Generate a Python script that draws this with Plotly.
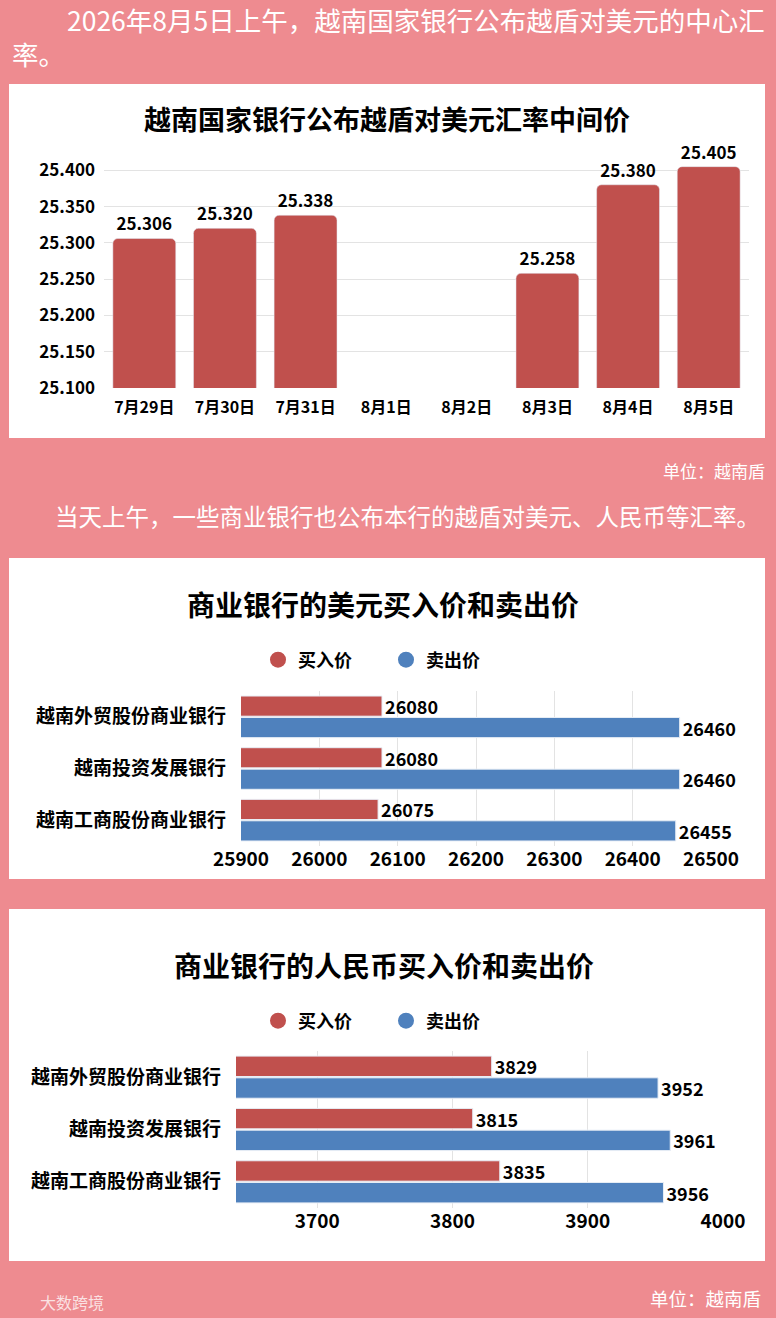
import plotly.graph_objects as go

W, H = 776, 1318
PINK = "#EE8B90"
RED = "#C0504D"
BLUE = "#4F81BD"
FONT = "Noto Sans CJK SC"

# 图1：越南国家银行中间价
dates = ["7月29日", "7月30日", "7月31日", "8月1日", "8月2日", "8月3日", "8月4日", "8月5日"]
mid_rate = [25.306, 25.320, 25.338, None, None, 25.258, 25.380, 25.405]

# 图2 / 图3：商业银行
banks = ["越南外贸股份商业银行", "越南投资发展银行", "越南工商股份商业银行"]
usd_buy = [26080, 26080, 26075]
usd_sell = [26460, 26460, 26455]
cny_buy = [3829, 3815, 3835]
cny_sell = [3952, 3961, 3956]

usd_ticks = [25900, 26000, 26100, 26200, 26300, 26400, 26500]
cny_ticks = [3700, 3800, 3900, 4000]


def fx(px):
    return px / W


def fy(py):
    return 1 - py / H


def f(size, color="black", bold=True):
    return dict(family=FONT, size=size, color=color, weight="bold" if bold else "normal")


fig = go.Figure()

fig.add_trace(go.Bar(
    x=dates, y=mid_rate, marker=dict(color=RED, cornerradius=5), texttemplate="%{y:.3f}",
    textposition="outside", textfont=f(17), cliponaxis=False, constraintext="none",
    xaxis="x", yaxis="y", showlegend=False, hoverinfo="skip",
))

for vals, col, xa, ya in [(usd_buy, RED, "x2", "y2"), (usd_sell, BLUE, "x2", "y2"),
                          (cny_buy, RED, "x3", "y3"), (cny_sell, BLUE, "x3", "y3")]:
    fig.add_trace(go.Bar(
        y=banks, x=vals, orientation="h",
        marker=dict(color=col, cornerradius=0, line=dict(color="#E8EEF6", width=1)),
        texttemplate="%{x:.0f}", textposition="outside", textfont=f(18),
        cliponaxis=False, constraintext="none",
        xaxis=xa, yaxis=ya, showlegend=False, hoverinfo="skip",
    ))

# 图例（圆点）
for name, col, lg, xa, ya in [("买入价", RED, "legend", "x2", "y2"), ("卖出价", BLUE, "legend", "x2", "y2"),
                              ("买入价", RED, "legend2", "x3", "y3"), ("卖出价", BLUE, "legend2", "x3", "y3")]:
    fig.add_trace(go.Scatter(
        x=[None], y=[None], mode="markers", name=name,
        marker=dict(symbol="circle", size=20, color=col),
        legend=lg, xaxis=xa, yaxis=ya, hoverinfo="skip",
    ))

grid = "#E3E3E3"
legend_style = dict(orientation="h", xanchor="left", yanchor="middle", font=f(18),
                    entrywidth=83, entrywidthmode="pixels", bgcolor="rgba(0,0,0,0)")
fig.update_layout(
    width=W, height=H,
    margin=dict(l=0, r=0, t=0, b=0, autoexpand=False),
    paper_bgcolor=PINK, plot_bgcolor="white",
    font=dict(family=FONT),
    barmode="group",
    bargap=0.17,
    bargroupgap=0.06,
    xaxis=dict(domain=[fx(104), fx(749)], type="category", showgrid=False, automargin=False,
               tickfont=f(16), ticklabelstandoff=8, fixedrange=True),
    yaxis=dict(domain=[fy(388), fy(163)], range=[25.1, 25.41], tick0=25.1, dtick=0.05,
               tickformat=".3f", gridcolor=grid, tickfont=f(17), ticklabelstandoff=8,
               zeroline=False, automargin=False),
    xaxis2=dict(domain=[fx(241), fx(711)], range=[25900, 26500], tickvals=usd_ticks,
                tickformat="d", gridcolor=grid, tickfont=f(19), zeroline=False,
                anchor="y2", automargin=False),
    yaxis2=dict(domain=[fy(846), fy(691)], autorange="reversed", tickfont=f(19),
                ticklabelstandoff=14, anchor="x2", automargin=False),
    xaxis3=dict(domain=[fx(236), fx(723)], range=[3640, 4000], tickvals=cny_ticks,
                tickformat="d", gridcolor=grid, tickfont=f(19), zeroline=False,
                anchor="y3", automargin=False),
    yaxis3=dict(domain=[fy(1208), fy(1051)], autorange="reversed", tickfont=f(19),
                ticklabelstandoff=14, anchor="x3", automargin=False),
    legend=dict(x=fx(258), y=fy(660), **legend_style),
    legend2=dict(x=fx(258), y=fy(1021), **legend_style),
)

# 白色面板
for top, bottom in [(84, 438), (558, 879), (909, 1261)]:
    fig.add_shape(type="rect", xref="paper", yref="paper", x0=fx(9), x1=fx(765),
                  y0=fy(bottom), y1=fy(top), fillcolor="white", line_width=0, layer="below")

notes = [
    ("2026年8月5日上午，越南国家银行公布越盾对美元的中心汇", 65, 20, 26.5, "left", False),
    ("率。", 10, 54, 26.5, "left", False),
    ("越南国家银行公布越盾对美元汇率中间价", 387, 118, 27, "center", True),
    ("单位：越南盾", 767, 470, 17, "right", False),
    ("当天上午，一些商业银行也公布本行的越盾对美元、人民币等汇率。", 53, 516, 23.5, "left", False),
    ("商业银行的美元买入价和卖出价", 383, 604, 28, "center", True),
    ("商业银行的人民币买入价和卖出价", 384, 965, 28, "center", True),
    ("单位：越南盾", 763, 1298, 18.5, "right", False),
]
for text, x, y, size, anchor, bold in notes:
    fig.add_annotation(text=text, x=fx(x), y=fy(y), xref="paper", yref="paper",
                       xanchor=anchor, yanchor="middle", showarrow=False,
                       font=f(size, "black" if bold else "white", bold))

fig.add_annotation(text="大数跨境", x=fx(38), y=fy(1302), xref="paper", yref="paper",
                   xanchor="left", yanchor="middle", showarrow=False,
                   font=f(16, "rgba(255,255,255,0.75)", False))

# 去掉页面默认的 8px 边距，让图正好铺满窗口
fig.write_html("out.html", config={"displayModeBar": False},
               post_script="document.body.style.margin='0px';")
